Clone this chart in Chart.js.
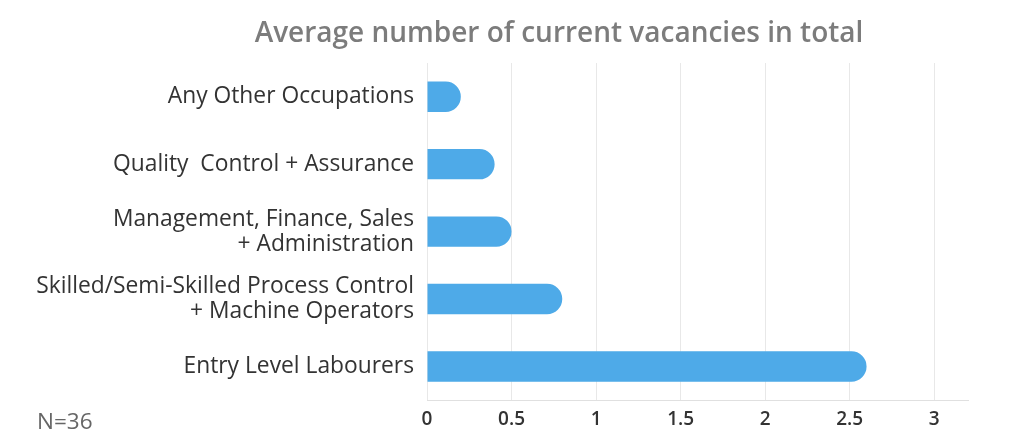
<!DOCTYPE html>
<html>
<head>
<meta charset="utf-8">
<script src="https://cdn.jsdelivr.net/npm/chart.js@4/dist/chart.umd.min.js"></script>
<style>
  body { margin: 0; background: #fff; }
  #wrap { position: relative; width: 1024px; height: 447px; }
  #title { position: absolute; left: 0; width: 1118px; top: 12px; text-align: center;
    font-family: "Open Sans", sans-serif; font-size: 28px; font-weight: 600; color: #7c7c7c; }
  #note { position: absolute; left: 37px; top: 405px; font-family: "Open Sans", sans-serif;
    font-size: 22.5px; color: #666; }
</style>
</head>
<body>
<div id="wrap">
  <canvas id="myChart" width="1024" height="447"></canvas>
  <div id="title">Average number of current vacancies in total</div>
  <div id="note">N=36</div>
</div>
<script>
// data
var categories = [
    'Any Other Occupations',
    'Quality  Control + Assurance',
    ['Management, Finance, Sales', '+ Administration'],
    ['Skilled/Semi-Skilled Process Control', '+ Machine Operators'],
    'Entry Level Labourers'
];
var vacancies = [0.2, 0.4, 0.5, 0.8, 2.6];
var tickValues = [0, 0.5, 1, 1.5, 2, 2.5, 3];

var ctx = document.getElementById('myChart').getContext('2d');
var myChart = new Chart(ctx, {
    type: 'bar',
    data: {
        labels: categories,
        datasets: [{
            data: vacancies,
            backgroundColor: '#4eaae8',
            borderRadius: 16,
            borderSkipped: 'start',
            barPercentage: 0.9,
            categoryPercentage: 0.5
        }]
    },
    options: {
        indexAxis: 'y',
        responsive: false,
        animation: false,
        layout: { padding: { top: 63, right: 56, bottom: 8, left: 0 } },
        plugins: {
            legend: { display: false },
            tooltip: { enabled: false }
        },
        scales: {
            x: {
                min: 0,
                max: 3.2,
                afterBuildTicks: function(scale) {
                    scale.ticks = tickValues.map(function(v) { return { value: v }; });
                },
                ticks: {
                    color: '#333',
                    padding: 8,
                    autoSkip: false,
                    maxRotation: 0,
                    font: { family: 'Open Sans', size: 19, weight: '600' },
                    callback: function(v) { return String(v); }
                },
                grid: { color: '#e8e8e8', drawTicks: false },
                border: { color: '#e0e0e0' }
            },
            y: {
                afterFit: function(scale) { scale.width = 427; },
                ticks: {
                    color: '#333',
                    padding: 5,
                    font: { family: 'Open Sans', size: 22.8, lineHeight: 1.1 }
                },
                grid: { display: false },
                border: { display: false }
            }
        }
    }
});
</script>
</body>
</html>
